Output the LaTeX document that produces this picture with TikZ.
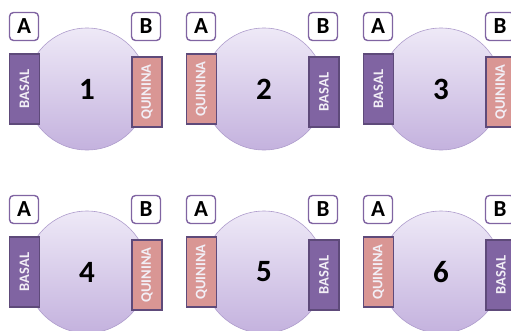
\documentclass[tikz,border=0pt]{standalone}
\usepackage{fontspec}
\setmainfont{Carlito}

\definecolor{frame}{HTML}{8064A2}
\definecolor{edge}{HTML}{5E4A7A}
\definecolor{BASAL}{HTML}{8064A2}
\definecolor{QUININA}{HTML}{D99694}
\definecolor{dishtop}{HTML}{EEE9F7}
\definecolor{dishbottom}{HTML}{C4B2DE}
\definecolor{dishedge}{HTML}{AE9CCC}

\begin{document}
\begin{tikzpicture}[x=1pt, y=-1pt,
    side/.style={draw=frame, line width=1.4pt, fill=white, rounded corners=4pt,
      minimum width=29pt, minimum height=28pt, inner sep=0pt,
      font=\fontsize{23}{23}\selectfont\bfseries},
    strip/.style={draw=edge, line width=1.4pt, rotate=90, inner sep=0pt,
      minimum width=70pt, minimum height=30pt, text=white!90!frame,
      font=\fontsize{14.5}{14.5}\selectfont\bfseries},
    dish/.style={circle, draw=dishedge, line width=0.6pt, minimum size=122pt,
      top color=dishtop, bottom color=dishbottom,
      font=\fontsize{31}{31}\selectfont\bfseries}
  ]
  \useasboundingbox (0,0) rectangle (511,330);
  \clip (0,0) rectangle (511,330);

  % one plate per panel: number, left strip, right strip
  \foreach \n/\x/\y/\l/\r in {1/9/0/BASAL/QUININA, 2/186/0/QUININA/BASAL,
      3/363/0/BASAL/QUININA, 4/9/183/BASAL/QUININA,
      5/186/183/QUININA/BASAL, 6/363/183/QUININA/BASAL}{
    \node[dish] (dish\n) at (\x+78, \y+89) {\n};
    \node[strip, fill=\l] (left\n) at (\x+15.5, \y+89) {\l};
    \node[strip, fill=\r] (right\n) at (\x+138, \y+92) {\r};
    \node[side] (A\n) at (\x+15, \y+26.5) {A};
    \node[side] (B\n) at (\x+137, \y+26.5) {B};
  }
\end{tikzpicture}
\end{document}
